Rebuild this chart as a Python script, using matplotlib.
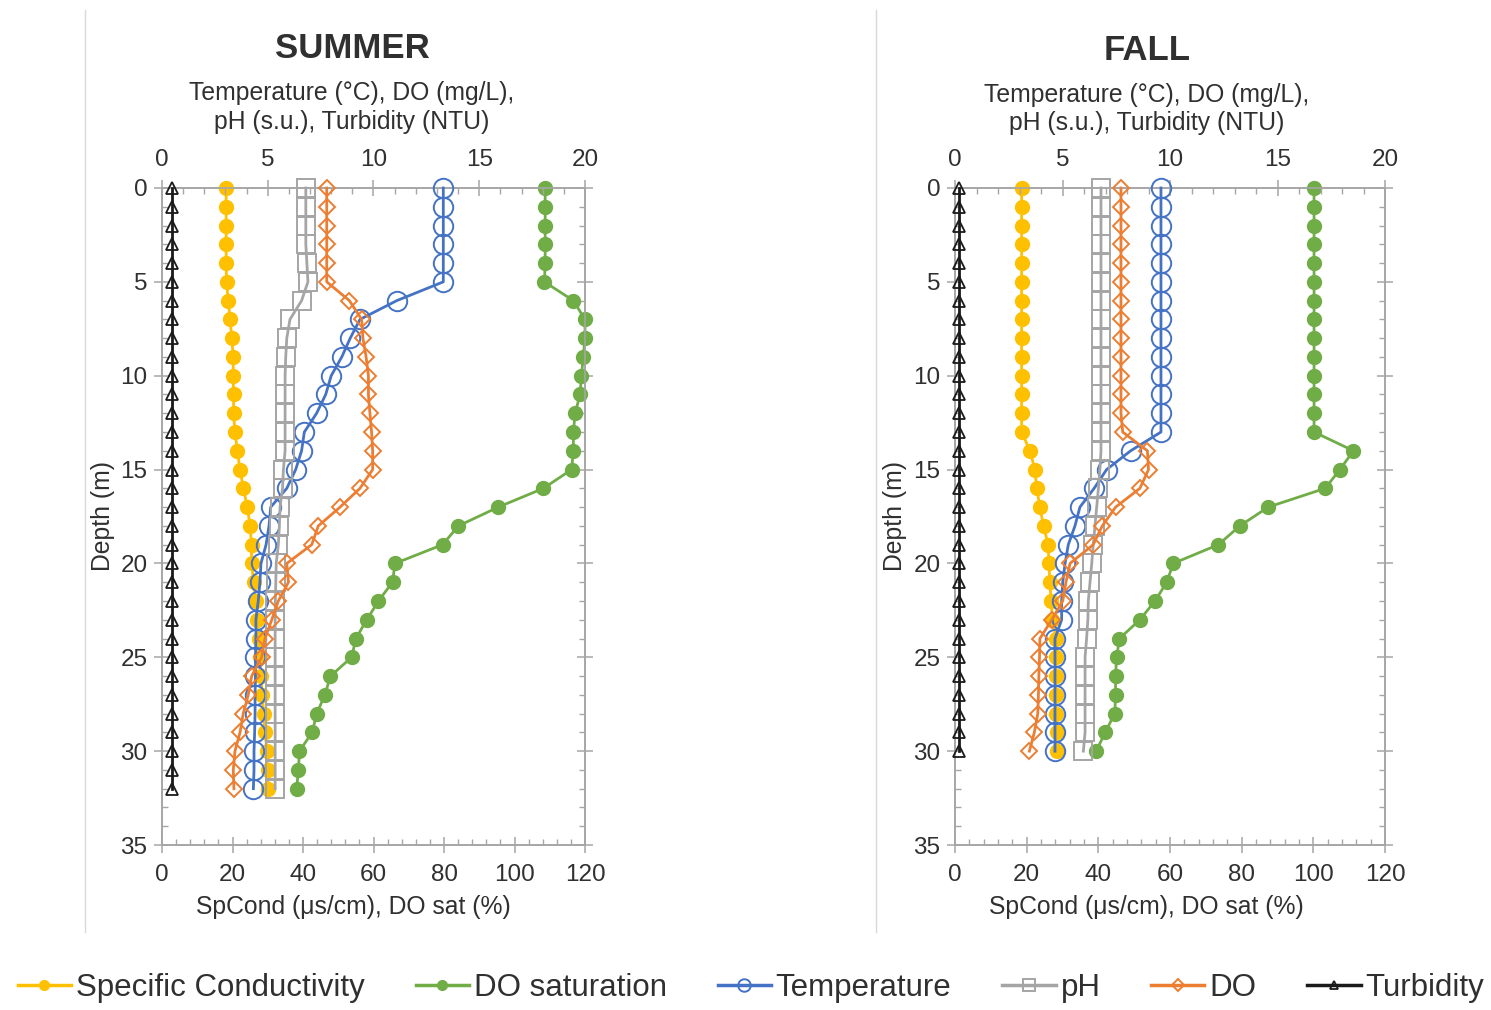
import matplotlib
matplotlib.use('Agg')
import matplotlib.pyplot as plt
from matplotlib.lines import Line2D
from matplotlib.ticker import MultipleLocator

plt.rcParams['font.family'] = ['Liberation Sans', 'DejaVu Sans']

# ---------------- data ----------------
summer_depth = list(range(0, 33))
summer_spcond = [18.2, 18.2, 18.2, 18.2, 18.2, 18.3, 18.8, 19.3, 19.8, 20.2,
                 20.2, 20.3, 20.3, 20.7, 21.4, 22.1, 23.1, 24.2, 25.0, 25.4,
                 25.4, 26.0, 26.6, 27.0, 27.4, 27.8, 28.0, 28.5, 28.8, 29.2,
                 29.8, 30.0, 30.2]
summer_dosat = [108.7, 108.7, 108.7, 108.7, 108.7, 108.5, 116.7, 120.0, 120.0, 119.5,
                119.0, 118.6, 117.2, 116.7, 116.7, 116.2, 108.2, 95.4, 84.1, 79.6,
                66.1, 65.4, 61.4, 58.1, 55.0, 53.8, 47.8, 46.2, 43.9, 42.6,
                39.0, 38.7, 38.2]
summer_temp = [13.3, 13.3, 13.3, 13.3, 13.3, 13.3, 11.1, 9.36, 8.9, 8.5,
               8.0, 7.74, 7.31, 6.73, 6.6, 6.32, 5.9, 5.14, 5.06, 4.92,
               4.68, 4.63, 4.55, 4.44, 4.44, 4.42, 4.42, 4.4, 4.4, 4.38,
               4.35, 4.35, 4.32]
summer_ph = [6.8, 6.8, 6.8, 6.8, 6.85, 6.9, 6.6, 6.05, 5.9, 5.85,
             5.82, 5.82, 5.82, 5.82, 5.82, 5.74, 5.7, 5.58, 5.55, 5.5,
             5.4, 5.38, 5.36, 5.35, 5.35, 5.35, 5.35, 5.35, 5.35, 5.35,
             5.35, 5.35, 5.35]
summer_do = [7.79, 7.79, 7.79, 7.79, 7.79, 7.79, 8.86, 9.44, 9.5, 9.65,
             9.76, 9.76, 9.83, 9.91, 9.96, 9.96, 9.36, 8.42, 7.39, 7.08,
             5.9, 5.98, 5.5, 5.19, 4.87, 4.71, 4.24, 4.08, 3.84, 3.69,
             3.45, 3.37, 3.4]
summer_turb = [0.45] * 33

fall_depth = list(range(0, 31))
fall_spcond = [18.6] * 14 + [20.9, 22.3, 22.8, 23.7, 24.7, 26.0,
                             26.2, 26.5, 26.8, 27.2, 28.2, 28.2, 28.2, 28.2, 28.3, 28.4, 28.5]
fall_dosat = [100.2] * 14 + [111.2, 107.4, 103.3, 87.4, 79.5, 73.5,
                             60.9, 59.1, 55.8, 51.6, 45.9, 45.1, 44.8, 44.8, 44.6, 41.9, 39.4]
fall_temp = [9.58] * 14 + [8.17, 7.05, 6.47, 5.81, 5.58, 5.27,
                           5.12, 5.01, 4.96, 4.96, 4.65, 4.65, 4.65, 4.65, 4.65, 4.65, 4.65]
fall_ph = [6.79] * 15 + [6.74, 6.67, 6.59, 6.51, 6.43,
                         6.36, 6.28, 6.2, 6.18, 6.12, 6.05, 6.05, 6.05, 6.05, 6.05, 5.97]
fall_do = [7.72] * 13 + [7.8, 8.95, 9.0, 8.6, 7.47, 6.85, 6.43,
                         5.35, 5.16, 5.01, 4.5, 3.95, 3.93, 3.9, 3.88, 3.85, 3.69, 3.46]
fall_turb = [0.2] * 31

series_names = ['Specific Conductivity', 'DO saturation', 'Temperature', 'pH', 'DO', 'Turbidity']
panel_titles = ['SUMMER', 'FALL']
top_title = ['Temperature (°C), DO (mg/L),', 'pH (s.u.), Turbidity (NTU)']
bottom_title = 'SpCond (\u03bcs/cm), DO sat (%)'
depth_title = 'Depth (m)'

# ---------------- styling ----------------
W, H = 1491, 1010
fig = plt.figure(figsize=(W / 100, H / 100), dpi=100)


def fx(px):
    return px / W


def fy(py):
    return 1 - py / H


AX_COLOR = '#A6A6A6'
TXT = '#303030'
C_SP = '#FFC000'
C_SAT = '#70AD47'
C_T = '#4472C4'
C_PH = '#A5A5A5'
C_DO = '#ED7D31'
C_TU = '#1A1A1A'

styles = {
    'sp': dict(color=C_SP, marker='o', ms=10, mfc=C_SP, mec=C_SP, lw=2),
    'sat': dict(color=C_SAT, marker='o', ms=10, mfc=C_SAT, mec=C_SAT, lw=2),
    't': dict(color=C_T, marker='o', ms=14, mfc='none', mec=C_T, mew=1.4, lw=2),
    'ph': dict(color=C_PH, marker='s', ms=12.5, mfc='none', mec=C_PH, mew=1.4, lw=2),
    'do': dict(color=C_DO, marker='D', ms=8.5, mfc='none', mec=C_DO, mew=1.4, lw=2),
    'tu': dict(color=C_TU, marker='^', ms=8.5, mfc='none', mec=C_TU, mew=1.3, lw=2),
}

TICK_FS = 17.5
TITLE_FS = 17.8


def make_panel(left_px, right_px, depth, sp, sat, temp, ph, do, turb):
    top_px, bot_px = 188, 845
    ax = fig.add_axes([fx(left_px), fy(bot_px), (right_px - left_px) / W, (bot_px - top_px) / H])
    ax2 = ax.twiny()
    ax.set_xlim(0, 120)
    ax2.set_xlim(0, 20)
    ax.set_ylim(35, 0)

    ax.xaxis.set_major_locator(MultipleLocator(20))
    ax.xaxis.set_minor_locator(MultipleLocator(4))
    ax2.xaxis.set_major_locator(MultipleLocator(5))
    ax2.xaxis.set_minor_locator(MultipleLocator(1))
    ax.yaxis.set_major_locator(MultipleLocator(5))
    ax.yaxis.set_minor_locator(MultipleLocator(1))

    for a in (ax, ax2):
        for s in a.spines.values():
            s.set_color(AX_COLOR)
            s.set_linewidth(1.2)
        a.set_facecolor('none')
    ax.yaxis.set_ticks_position('both')
    ax.tick_params(which='major', direction='inout', length=11, width=1.1, color=AX_COLOR,
                   labelsize=TICK_FS, labelcolor=TXT, pad=5)
    ax.tick_params(axis='x', which='major', pad=8)
    ax.tick_params(which='minor', direction='in', length=4, width=1, color=AX_COLOR)
    ax.tick_params(axis='y', labelright=False, labelleft=True)
    ax2.tick_params(which='major', direction='inout', length=11, width=1.1, color=AX_COLOR,
                    labelsize=TICK_FS, labelcolor=TXT, pad=7)
    ax2.tick_params(which='minor', direction='in', length=4, width=1, color=AX_COLOR)

    ax.plot(sp, depth, clip_on=False, zorder=3, **styles['sp'])
    ax.plot(sat, depth, clip_on=False, zorder=3, **styles['sat'])
    ax2.plot(temp, depth, clip_on=False, zorder=3, **styles['t'])
    ax2.plot(ph, depth, clip_on=False, zorder=3, **styles['ph'])
    ax2.plot(do, depth, clip_on=False, zorder=3, **styles['do'])
    ax2.plot(turb, depth, clip_on=False, zorder=3, **styles['tu'])
    return ax, ax2


make_panel(162, 585, summer_depth, summer_spcond, summer_dosat, summer_temp,
           summer_ph, summer_do, summer_turb)
make_panel(955, 1385, fall_depth, fall_spcond, fall_dosat, fall_temp,
           fall_ph, fall_do, fall_turb)

# titles / axis titles
for cx, ty, t1y, t2y, bx, dx, title in [(352, 48, 93, 122, 353, 103, panel_titles[0]),
                                         (1147, 50, 95, 123, 1146, 895, panel_titles[1])]:
    fig.text(fx(cx), fy(ty), title, ha='center', va='center', fontsize=25,
             fontweight='bold', color=TXT)
    fig.text(fx(cx), fy(t1y), top_title[0], ha='center', va='center', fontsize=TITLE_FS, color=TXT)
    fig.text(fx(cx), fy(t2y), top_title[1], ha='center', va='center', fontsize=TITLE_FS, color=TXT)
    fig.text(fx(bx), fy(907), bottom_title, ha='center', va='center', fontsize=TITLE_FS, color=TXT)
    fig.text(fx(dx), fy(516), depth_title, ha='center', va='center', fontsize=TITLE_FS,
             rotation=90, color=TXT)

# separator lines (chart-area borders)
for xp in (85, 876):
    fig.add_artist(Line2D([fx(xp), fx(xp)], [fy(10), fy(932)], transform=fig.transFigure,
                          color='#D9D9D9', lw=1))

# legend
keys = ['sp', 'sat', 't', 'ph', 'do', 'tu']
leg_ms = {'sp': 7, 'sat': 7, 't': 9, 'ph': 8.5, 'do': 6, 'tu': 6}
handles = []
for k, name in zip(keys, series_names):
    st = dict(styles[k])
    st['ms'] = leg_ms[k]
    st['lw'] = 2.5
    handles.append(Line2D([], [], label=name, **st))
LEG_FS = 22.5
fig.legend(handles=handles, loc='center', bbox_to_anchor=(fx(751), fy(988)), ncol=6,
           frameon=False, prop={'size': LEG_FS},
           handlelength=1.7, handletextpad=0.16, columnspacing=1.63, borderpad=0,
           labelcolor=TXT)

fig.savefig('out.png', dpi=100, facecolor='white')
